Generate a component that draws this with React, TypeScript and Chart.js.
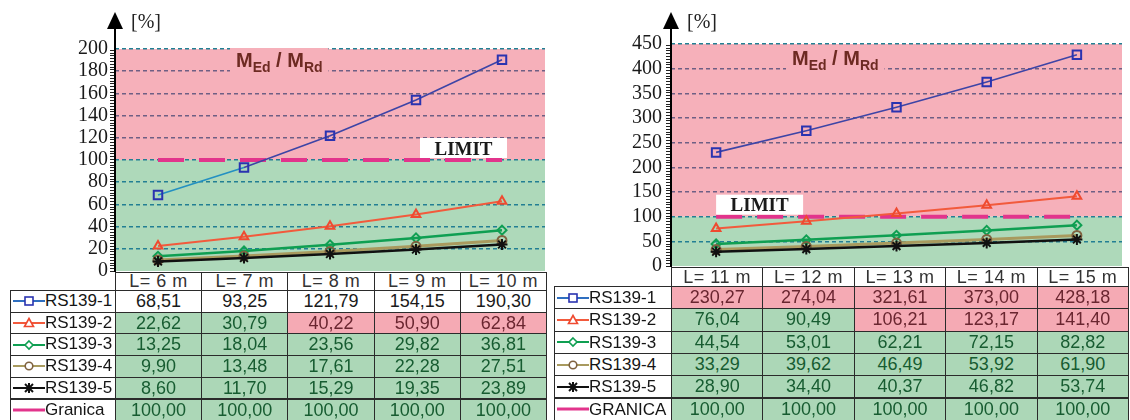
import React, { useEffect, useRef } from 'react';
import { Chart, registerables } from 'chart.js';

Chart.register(...registerables);

// ---------------- DATA ----------------
const seriesNames = ['RS139-1', 'RS139-2', 'RS139-3', 'RS139-4', 'RS139-5'];

const leftCategories = ['L= 6 m', 'L= 7 m', 'L= 8 m', 'L= 9 m', 'L= 10 m'];
const leftRS1 = [68.51, 93.25, 121.79, 154.15, 190.3];
const leftRS2 = [22.62, 30.79, 40.22, 50.9, 62.84];
const leftRS3 = [13.25, 18.04, 23.56, 29.82, 36.81];
const leftRS4 = [9.9, 13.48, 17.61, 22.28, 27.51];
const leftRS5 = [8.6, 11.7, 15.29, 19.35, 23.89];
const leftLimit = [100, 100, 100, 100, 100];
const leftLimitName = 'Granica';
const leftShading = ['WWWWW', 'GGRRR', 'GGGGG', 'GGGGG', 'GGGGG', 'GGGGG'];
const leftYMax = 200;
const leftYStep = 20;

const rightCategories = ['L= 11 m', 'L= 12 m', 'L= 13 m', 'L= 14 m', 'L= 15 m'];
const rightRS1 = [230.27, 274.04, 321.61, 373.0, 428.18];
const rightRS2 = [76.04, 90.49, 106.21, 123.17, 141.4];
const rightRS3 = [44.54, 53.01, 62.21, 72.15, 82.82];
const rightRS4 = [33.29, 39.62, 46.49, 53.92, 61.9];
const rightRS5 = [28.9, 34.4, 40.37, 46.82, 53.74];
const rightLimit = [100, 100, 100, 100, 100];
const rightLimitName = 'GRANICA';
const rightShading = ['RRRRR', 'GGRRR', 'GGGGG', 'GGGGG', 'GGGGG', 'GGGGG'];
const rightYMax = 450;
const rightYStep = 50;

const limitValue = 100;
const unitLabel = '[%]';
const limitLabel = 'LIMIT';

// ---------------- STYLES ----------------
const PINK = '#f6b0ba';
const GREEN = '#aed9ba';
const CELL_PINK = '#f5aab4';
const CELL_GREEN = '#acd7b7';
const SANS = 'Arial, "Liberation Sans", sans-serif';
const SERIF = '"Liberation Serif", "Times New Roman", serif';

type SeriesStyle = {
  line: string;
  low?: string;
  marker: string;
  point: string;
  r: number;
  w: number;
};

const seriesStyles: SeriesStyle[] = [
  { line: '#3d44a6', low: '#2390c2', marker: '#2a33b0', point: 'rect', r: 6, w: 1.6 },
  { line: '#f25a3c', marker: '#ef4a30', point: 'triangle', r: 5, w: 2 },
  { line: '#0f9f52', marker: '#0f9f52', point: 'rectRot', r: 4.5, w: 2.5 },
  { line: '#a89a5e', marker: '#7f6240', point: 'circle', r: 4.5, w: 3 },
  { line: '#111111', marker: '#111111', point: 'star', r: 5.5, w: 2.5 },
];
const LIMIT_COLOR = '#e2348c';

type PanelCfg = {
  left: number;
  width: number;
  height: number;
  axisLeft: number;
  padTop: number;
  padRight: number;
  padBottom: number;
  labelPad: number;
  yMax: number;
  yStep: number;
  categories: string[];
  series: number[][];
  limit: number[];
  limitName: string;
  medBaseline: number;
  limitBoxCat: number;
  limitBoxShift: number;
};

function buildDatasets(cfg: PanelCfg) {
  const ds: any[] = cfg.series.map((vals, i) => {
    const st = seriesStyles[i];
    return {
      label: seriesNames[i],
      data: vals,
      borderColor: st.line,
      borderWidth: st.w,
      pointStyle: st.point,
      pointRadius: st.r,
      pointBorderWidth: 2,
      pointBorderColor: st.marker,
      pointBackgroundColor: 'rgba(0,0,0,0)',
      order: 5 - i,
      segment: st.low
        ? {
            borderColor: (c: any) =>
              c.p0.parsed.y < limitValue && c.p1.parsed.y < limitValue ? st.low : st.line,
          }
        : undefined,
    };
  });
  ds.push({
    label: cfg.limitName,
    data: cfg.limit,
    borderColor: LIMIT_COLOR,
    borderWidth: 4,
    borderDash: [26, 15],
    pointRadius: 0,
    order: 20,
  });
  return ds;
}

function makePlugin(cfg: PanelCfg) {
  return {
    id: 'panelDeco',
    beforeDraw(chart: any) {
      const { ctx, chartArea } = chart;
      const { left, right, top, bottom } = chartArea;
      const y100 = chart.scales.y.getPixelForValue(limitValue);
      ctx.save();
      ctx.fillStyle = PINK;
      ctx.fillRect(left, top, right - left, y100 - top);
      ctx.fillStyle = GREEN;
      ctx.fillRect(left, y100, right - left, bottom - y100);
      ctx.restore();
    },
    beforeDatasetsDraw(chart: any) {
      const { ctx, chartArea } = chart;
      const x0 = chartArea.left + 121;
      const base = chartArea.top + cfg.medBaseline;
      ctx.save();
      ctx.font = `bold 20px ${SANS}`;
      const wM = ctx.measureText('M').width;
      const wSl = ctx.measureText(' / ').width;
      ctx.font = `bold 14px ${SANS}`;
      const wEd = ctx.measureText('Ed').width;
      const wRd = ctx.measureText('Rd').width;
      const total = wM * 2 + wSl + wEd + wRd;
      ctx.fillStyle = PINK;
      ctx.fillRect(x0 - 6, base - 19, total + 12, 28);
      ctx.fillStyle = '#6d2a22';
      ctx.textBaseline = 'alphabetic';
      let x = x0;
      ctx.font = `bold 20px ${SANS}`;
      ctx.fillText('M', x, base);
      x += wM;
      ctx.font = `bold 14px ${SANS}`;
      ctx.fillText('Ed', x, base + 5);
      x += wEd;
      ctx.font = `bold 20px ${SANS}`;
      ctx.fillText(' / ', x, base);
      x += wSl;
      ctx.fillText('M', x, base);
      x += wM;
      ctx.font = `bold 14px ${SANS}`;
      ctx.fillText('Rd', x, base + 5);
      ctx.restore();
    },
    afterDraw(chart: any) {
      const { ctx, chartArea } = chart;
      const { left, top, bottom } = chartArea;
      const yScale = chart.scales.y;
      const xScale = chart.scales.x;
      ctx.save();
      // minor hatch ticks
      ctx.strokeStyle = '#222';
      ctx.lineWidth = 1;
      for (let y = bottom; y >= top - 0.5; y -= 2.8) {
        ctx.beginPath();
        ctx.moveTo(left - 5, Math.round(y) + 0.5);
        ctx.lineTo(left, Math.round(y) + 0.5);
        ctx.stroke();
      }
      // axis line
      ctx.strokeStyle = '#000';
      ctx.lineWidth = 2;
      ctx.beginPath();
      ctx.moveTo(left, bottom + 1);
      ctx.lineTo(left, 20);
      ctx.stroke();
      // arrow
      ctx.fillStyle = '#000';
      ctx.beginPath();
      ctx.moveTo(left, 12);
      ctx.lineTo(left - 8, 29);
      ctx.lineTo(left + 8, 29);
      ctx.closePath();
      ctx.fill();
      // unit
      ctx.font = `20px ${SERIF}`;
      ctx.fillStyle = '#222';
      ctx.textBaseline = 'alphabetic';
      ctx.fillText(unitLabel, left + 16, 28);
      // LIMIT box
      const bx = xScale.getPixelForValue(cfg.limitBoxCat) + cfg.limitBoxShift;
      const by = yScale.getPixelForValue(limitValue) - 22;
      ctx.fillStyle = '#ffffff';
      ctx.fillRect(bx, by, 87, 20);
      ctx.fillStyle = '#1a1a1a';
      ctx.font = `bold 19px ${SERIF}`;
      ctx.textAlign = 'center';
      ctx.fillText(limitLabel, bx + 43.5, by + 16.5);
      ctx.restore();
    },
  };
}

function ChartPanel({ cfg }: { cfg: PanelCfg }) {
  const ref = useRef<HTMLCanvasElement>(null);
  useEffect(() => {
    const chart = new Chart(ref.current as HTMLCanvasElement, {
      type: 'line',
      data: { labels: cfg.categories, datasets: buildDatasets(cfg) },
      options: {
        animation: false,
        responsive: false,
        devicePixelRatio: 1,
        events: [],
        layout: {
          padding: { left: 0, top: cfg.padTop, right: cfg.padRight, bottom: cfg.padBottom },
        },
        plugins: { legend: { display: false }, tooltip: { enabled: false } },
        scales: {
          x: {
            type: 'category',
            offset: true,
            display: false,
            grid: { display: false },
          },
          y: {
            min: 0,
            max: cfg.yMax,
            afterFit: (s: any) => {
              s.width = cfg.axisLeft;
            },
            border: { display: false, dash: [4, 3] },
            grid: {
              drawTicks: false,
              lineWidth: 1.5,
              color: (c: any) => {
                const v = c.tick ? c.tick.value : 0;
                if (v === 0) return 'rgba(0,0,0,0)';
                if (v > limitValue && v < cfg.yMax) return '#6e5f84';
                return '#227f93';
              },
            },
            ticks: {
              stepSize: cfg.yStep,
              autoSkip: false,
              padding: cfg.labelPad,
              color: '#1a1a1a',
              font: { family: SERIF, size: 20 },
            },
          },
        },
      } as any,
      plugins: [makePlugin(cfg)],
    });
    return () => chart.destroy();
  }, []);
  return (
    <canvas
      ref={ref}
      width={cfg.width}
      height={cfg.height}
      style={{ position: 'absolute', left: cfg.left, top: 0, width: cfg.width, height: cfg.height }}
    />
  );
}

function Marker({ idx, limit }: { idx: number; limit?: boolean }) {
  if (limit) {
    return (
      <svg width={32} height={14} style={{ position: 'absolute', left: 2, top: '50%', marginTop: -7 }}>
        <line x1={0} y1={7} x2={32} y2={7} stroke={LIMIT_COLOR} strokeWidth={3} />
      </svg>
    );
  }
  const st = seriesStyles[idx];
  const c = 16;
  const lineColor = idx === 0 ? '#2f6fc0' : st.line;
  let shape: any = null;
  if (st.point === 'rect') shape = <rect x={c - 4} y={3} width={8} height={8} fill="#fff" stroke={st.marker} strokeWidth={1.6} />;
  if (st.point === 'triangle')
    shape = <polygon points={`${c},2.5 ${c + 4.5},10.5 ${c - 4.5},10.5`} fill="#fff" stroke={st.marker} strokeWidth={1.6} />;
  if (st.point === 'rectRot')
    shape = <polygon points={`${c},3 ${c + 4},7 ${c},11 ${c - 4},7`} fill="#fff" stroke={st.marker} strokeWidth={1.6} />;
  if (st.point === 'circle') shape = <circle cx={c} cy={7} r={3.8} fill="#fff" stroke={st.marker} strokeWidth={1.6} />;
  if (st.point === 'star')
    shape = (
      <g stroke={st.marker} strokeWidth={2}>
        <line x1={c - 5} y1={7} x2={c + 5} y2={7} />
        <line x1={c} y1={2} x2={c} y2={12} />
        <line x1={c - 4} y1={3} x2={c + 4} y2={11} />
        <line x1={c + 4} y1={3} x2={c - 4} y2={11} />
      </g>
    );
  return (
    <svg width={32} height={14} style={{ position: 'absolute', left: 2, top: '50%', marginTop: -7 }}>
      <line x1={0} y1={7} x2={32} y2={7} stroke={lineColor} strokeWidth={2} />
      {shape}
    </svg>
  );
}

type TableCfg = {
  labelLeft: number;
  colLeft: number;
  colW: number;
  headerTop: number;
  headerH: number;
  rowTop: number;
  rowH: number;
  categories: string[];
  series: number[][];
  limit: number[];
  limitName: string;
  shading: string[];
};

const fmt = (v: number) => v.toFixed(2).replace('.', ',');

function DataTable({ t }: { t: TableCfg }) {
  const cells: any[] = [];
  const base: any = {
    position: 'absolute',
    boxSizing: 'border-box',
    border: '1px solid #2b2b2b',
    fontFamily: SANS,
    fontSize: 18,
    whiteSpace: 'nowrap',
    overflow: 'hidden',
  };
  t.categories.forEach((cat, j) => {
    cells.push(
      <div
        key={'h' + j}
        style={{
          ...base,
          left: t.colLeft + j * t.colW,
          top: t.headerTop,
          width: t.colW + 1,
          height: t.headerH + 1,
          lineHeight: `${t.headerH - 1}px`,
          textAlign: 'center',
          background: '#fff',
          color: '#333',
          letterSpacing: 0.5,
        }}
      >
        {cat}
      </div>
    );
  });
  const rows = [...t.series, t.limit];
  rows.forEach((vals, i) => {
    const top = t.rowTop + i * t.rowH;
    const isLimit = i === t.series.length;
    cells.push(
      <div
        key={'l' + i}
        style={{
          ...base,
          left: t.labelLeft,
          top,
          width: t.colLeft - t.labelLeft + 1,
          height: t.rowH + 1,
          lineHeight: `${t.rowH - 1}px`,
          background: '#fff',
          color: '#151515',
          paddingLeft: 34,
          fontSize: 17,
        }}
      >
        <Marker idx={i} limit={isLimit} />
        {isLimit ? t.limitName : seriesNames[i]}
      </div>
    );
    vals.forEach((v, j) => {
      const s = t.shading[i][j];
      const bg = s === 'R' ? CELL_PINK : s === 'G' ? CELL_GREEN : '#fff';
      const col = s === 'R' ? '#6a2630' : s === 'G' ? '#175c31' : '#1a1a1a';
      cells.push(
        <div
          key={'c' + i + '_' + j}
          style={{
            ...base,
            left: t.colLeft + j * t.colW,
            top,
            width: t.colW + 1,
            height: t.rowH + 1,
            lineHeight: `${t.rowH - 1}px`,
            textAlign: 'center',
            background: bg,
            color: col,
          }}
        >
          {fmt(v)}
        </div>
      );
    });
  });
  return <>{cells}</>;
}

const leftPanel: PanelCfg = {
  left: 0,
  width: 555,
  height: 301,
  axisLeft: 115,
  padTop: 49,
  padRight: 10,
  padBottom: 30,
  labelPad: 7,
  yMax: leftYMax,
  yStep: leftYStep,
  categories: leftCategories,
  series: [leftRS1, leftRS2, leftRS3, leftRS4, leftRS5],
  limit: leftLimit,
  limitName: leftLimitName,
  medBaseline: 18,
  limitBoxCat: 3,
  limitBoxShift: 4,
};

const rightPanel: PanelCfg = {
  left: 550,
  width: 580,
  height: 296,
  axisLeft: 121,
  padTop: 44,
  padRight: 2,
  padBottom: 30,
  labelPad: 9,
  yMax: rightYMax,
  yStep: rightYStep,
  categories: rightCategories,
  series: [rightRS1, rightRS2, rightRS3, rightRS4, rightRS5],
  limit: rightLimit,
  limitName: rightLimitName,
  medBaseline: 21,
  limitBoxCat: 0,
  limitBoxShift: 0,
};

const leftTable: TableCfg = {
  labelLeft: 10,
  colLeft: 115,
  colW: 86.2,
  headerTop: 272,
  headerH: 18,
  rowTop: 290,
  rowH: 21.7,
  categories: leftCategories,
  series: leftPanel.series,
  limit: leftLimit,
  limitName: leftLimitName,
  shading: leftShading,
};

const rightTable: TableCfg = {
  labelLeft: 554,
  colLeft: 671,
  colW: 91.4,
  headerTop: 267,
  headerH: 19,
  rowTop: 286,
  rowH: 22.3,
  categories: rightCategories,
  series: rightPanel.series,
  limit: rightLimit,
  limitName: rightLimitName,
  shading: rightShading,
};

export default function App() {
  return (
    <div
      style={{
        position: 'absolute',
        left: 0,
        top: 0,
        width: 1130,
        height: 420,
        overflow: 'hidden',
        background: '#fff',
      }}
    >
      <ChartPanel cfg={leftPanel} />
      <ChartPanel cfg={rightPanel} />
      <DataTable t={leftTable} />
      <DataTable t={rightTable} />
    </div>
  );
}
